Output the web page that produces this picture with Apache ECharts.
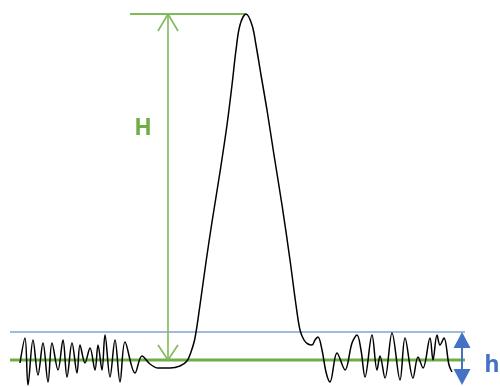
<!DOCTYPE html>
<html><head><meta charset="utf-8">
<script src="https://cdn.jsdelivr.net/npm/echarts@6/dist/echarts.min.js"></script>
<style>html,body{margin:0;padding:0;background:#fff}#c{width:500px;height:387px}</style>
</head><body><div id="c"></div>
<script>
// Coordinates in picture units (x: 0-500, y: 0-387 from top)
const signal = [
 [20,363],[25,338],[28,385],[33,340],[38,375],[43,343],[48,382],[52,343],[58,370],[63,340],
 [67,377],[72,343],[77,373],[80,345],[85,363],[90,348],[95,370],[98,345],[102,370],[105,335],
 [110,377],[115,340],[120,382],[125,342],[135,373],[142,356],
 [150,364],[158,368],[170,368],[180,366],[187,361],[191,352],[195,338],[200,305],[206,262],
 [212,222],[220,172],[227,125],[232,85],[236,50],[240,25],[246,14],[252,25],[256,45],
 [261,75],[267,110],[274,155],[282,205],[290,260],[296,305],[300,330],[304,340],[308,344],
 [312,345],[315,340],[318,337],[322,350],[326,372],[330,382],[337,353],[345,370],[352,343],
 [357,335],[361,350],[365,377],[372,335],[377,370],[380,356],[385,378],[392,333],[400,380],
 [405,338],[413,378],[418,357],[423,368],[430,338],[433,360],[437,335],[440,345],[444,338],
 [449,365],[452,372]
];
const peakLevel = [[130,14],[246,14]];
const heightArrow = [[168,14],[168,360]];
const arrowTopHead = [[158,31],[168,14],[178,31]];
const arrowBottomHead = [[158,345],[168,360],[178,345]];
const baseline = [[10,360],[465,360]];
const noiseTop = [[10,332],[465,332]];
const noiseArrow = [[462,340],[462,377]];
const labels = [{text:'H', x:143, y:128}, {text:'h', x:492, y:365}];

const green = '#70AD47', lightGreen = '#7FBA5A', blue = '#4472C4';
function lineSeries(data, color, width, z, smooth){
  return {type:'line', data, showSymbol:false, symbol:'none', smooth: smooth||false,
    lineStyle:{color, width, opacity:1}, z: z||2, silent:true, animation:false};
}
const chart = echarts.init(document.getElementById('c'), null, {renderer:'canvas'});
chart.setOption({
  animation:false,
  grid:{left:0,right:0,top:0,bottom:0},
  xAxis:{type:'value',min:0,max:500,show:false},
  yAxis:{type:'value',min:0,max:387,inverse:true,show:false},
  series:[
    lineSeries(noiseTop, blue, 1, 1),
    lineSeries(baseline, green, 3, 1),
    lineSeries(peakLevel, lightGreen, 2, 1),
    lineSeries(heightArrow, lightGreen, 1.6, 1),
    lineSeries(arrowTopHead, lightGreen, 1.6, 1),
    lineSeries(arrowBottomHead, lightGreen, 1.6, 1),
    lineSeries(noiseArrow, blue, 2, 1),
    {type:'scatter', data:[noiseArrow[0]], symbol:'triangle', symbolSize:[17,16],
      itemStyle:{color:blue, opacity:1}, silent:true, z:3},
    {type:'scatter', data:[noiseArrow[1]], symbol:'triangle', symbolSize:[17,16], symbolRotate:180,
      itemStyle:{color:blue, opacity:1}, silent:true, z:3},
    lineSeries(signal, '#000000', 1.5, 5, 0.35),
    {type:'scatter', symbolSize:0, silent:true, z:6, itemStyle:{opacity:1},
      data: labels.map((l,i)=>({value:[l.x,l.y], name:l.text,
        label:{show:true, position:'inside', formatter:l.text, fontFamily:'Noto Sans', fontWeight:'bold',
          fontSize:23, color: i===0?green:blue, opacity:1}}))}
  ]
});
</script></body></html>
